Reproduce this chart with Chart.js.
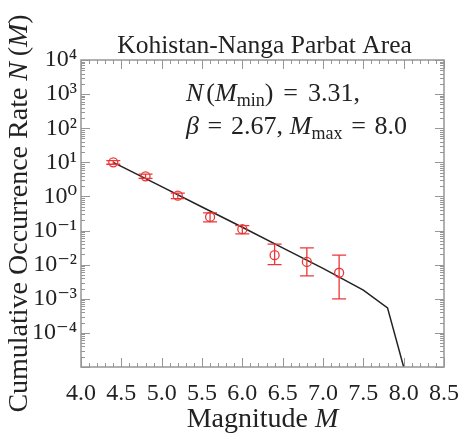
<!DOCTYPE html>
<html>
<head>
<meta charset="utf-8">
<script src="https://cdn.jsdelivr.net/npm/chart.js@4.4.0/dist/chart.umd.min.js"></script>
<style>
  html, body { margin: 0; padding: 0; background: #fff; }
  canvas { display: block; }
</style>
</head>
<body>
<canvas id="grChart" width="471" height="437"></canvas>
<script>
// observed cumulative rates with error bars
const obsM  = [4.4, 4.8, 5.2, 5.6, 6.0, 6.4, 6.8, 7.2];
const obsN  = [10, 3.9, 1.05, 0.25, 0.11, 0.019, 0.012, 0.0058];
const obsLo = [8.8, 3.4, 0.86, 0.18, 0.08, 0.01, 0.0047, 0.001];
const obsHi = [11.2, 4.5, 1.25, 0.33, 0.14, 0.04, 0.031, 0.019];

// fitted truncated G-R curve
const fitM = [4.4, 5.0, 5.5, 6.0, 6.5, 7.0, 7.5, 7.8, 8.0];
const fitN = [10, 1.93, 0.49, 0.125, 0.031, 0.0078, 0.0018, 0.00054, 0.00001];

// axis ticks
const xTicks = [4.0, 4.5, 5.0, 5.5, 6.0, 6.5, 7.0, 7.5, 8.0, 8.5];
const yExps = [-4, -3, -2, -1, 0, 1, 2, 3, 4];

const SERIF = '"Liberation Serif", "DejaVu Serif", serif';
const RED = 'rgb(235, 55, 55)';
const FRAME = 'rgb(150, 150, 150)';
const TXT = '#222';

const supMap = {'-': '\u207B', '0': '\u2070', '1': '\u00B9', '2': '\u00B2', '3': '\u00B3',
  '4': '\u2074', '5': '\u2075', '6': '\u2076', '7': '\u2077', '8': '\u2078', '9': '\u2079'};
function sup(n) {
    return String(n).split('').map(c => supMap[c]).join('');
}

function setFont(ctx, kind, size) {
    if (kind === 'i') ctx.font = 'italic ' + size + 'px ' + SERIF;
    else if (kind === 's') ctx.font = Math.round(size * 0.68) + 'px ' + SERIF;
    else ctx.font = size + 'px ' + SERIF;
}

// draws a run of mixed text; 'g' parts are stretchable gaps (weight in t) so the run spans [x0, x1]
function drawRun(ctx, parts, x0, x1, y, size) {
    let fixed = 0, gaps = 0;
    parts.forEach(([t, k]) => {
        if (k === 'g') { gaps += t; return; }
        setFont(ctx, k, size);
        fixed += ctx.measureText(t).width;
    });
    const gw = gaps ? Math.max(0, (x1 - x0 - fixed) / gaps) : 0;
    let cx = x0;
    parts.forEach(([t, k]) => {
        if (k === 'g') { cx += gw * t; return; }
        setFont(ctx, k, size);
        ctx.fillText(t, cx, y + (k === 's' ? 5 : 0));
        cx += ctx.measureText(t).width;
    });
}

function runWidth(ctx, parts, size) {
    let w = 0;
    parts.forEach(([t, k]) => { setFont(ctx, k, size); w += ctx.measureText(t).width; });
    return w;
}

// frame + inward ticks on all sides
const frameTicks = {
    id: 'frameTicks',
    afterDatasetsDraw(chart) {
        const {ctx, chartArea: a, scales: {x, y}} = chart;
        ctx.save();
        ctx.strokeStyle = FRAME;
        ctx.lineWidth = 1;
        for (let i = 0; i <= 45; i++) {
            const v = 4 + i * 0.1;
            const px = Math.round(x.getPixelForValue(v)) + 0.5;
            const len = (i % 5 === 0) ? 9 : 4;
            ctx.beginPath();
            ctx.moveTo(px, a.bottom); ctx.lineTo(px, a.bottom - len);
            ctx.moveTo(px, a.top); ctx.lineTo(px, a.top + len);
            ctx.stroke();
        }
        for (let e = -5; e <= 4; e++) {
            for (let m = 1; m <= 9; m++) {
                if (e === 4 && m > 1) break;
                const py = Math.round(y.getPixelForValue(m * Math.pow(10, e))) + 0.5;
                const len = (m === 1) ? 9 : 4;
                ctx.beginPath();
                ctx.moveTo(a.left, py); ctx.lineTo(a.left + len, py);
                ctx.moveTo(a.right, py); ctx.lineTo(a.right - len, py);
                ctx.stroke();
            }
        }
        ctx.lineWidth = 1.5;
        ctx.strokeRect(a.left, a.top, a.right - a.left, a.bottom - a.top);
        ctx.restore();
    }
};

// vertical error bars for the observed points
const errorBars = {
    id: 'errorBars',
    afterDatasetsDraw(chart) {
        const {ctx, scales: {x, y}} = chart;
        ctx.save();
        ctx.strokeStyle = RED;
        ctx.lineWidth = 1.3;
        obsM.forEach((m, i) => {
            const px = x.getPixelForValue(m);
            const yl = y.getPixelForValue(obsLo[i]);
            const yh = y.getPixelForValue(obsHi[i]);
            ctx.beginPath();
            ctx.moveTo(px, yl); ctx.lineTo(px, yh);
            ctx.moveTo(px - 7, yl); ctx.lineTo(px + 7, yl);
            ctx.moveTo(px - 7, yh); ctx.lineTo(px + 7, yh);
            ctx.stroke();
        });
        ctx.restore();
    }
};

// title, axis titles and parameter annotation
const texts = {
    id: 'texts',
    afterDraw(chart) {
        const {ctx, chartArea: a} = chart;
        const cx = (a.left + a.right) / 2;
        const cy = (a.top + a.bottom) / 2;
        ctx.save();
        ctx.fillStyle = TXT;
        ctx.textBaseline = 'alphabetic';
        ctx.textAlign = 'center';
        ctx.font = '25.5px ' + SERIF;
        ctx.fillText('Kohistan-Nanga Parbat Area', cx + 2, 53);

        ctx.textAlign = 'left';
        const xt = [['Magnitude ', 'r'], ['M', 'i']];
        const xw = runWidth(ctx, xt, 28);
        drawRun(ctx, xt, cx - xw / 2, cx + xw / 2, 427, 28);

        const yt = [['Cumulative Occurrence Rate ', 'r'], ['N', 'i'], ['\u2009(', 'r'], ['M', 'i'], [')', 'r']];
        const yw = runWidth(ctx, yt, 28);
        ctx.save();
        ctx.translate(27, cy);
        ctx.rotate(-Math.PI / 2);
        drawRun(ctx, yt, -yw / 2, yw / 2, 0, 28);
        ctx.restore();

        drawRun(ctx, [['N', 'i'], [0.3, 'g'], ['(', 'r'], ['M', 'i'], ['min', 's'], [')', 'r'],
            [1, 'g'], ['=', 'r'], [1, 'g'], ['3.31,', 'r']], 186, 360, 101, 26);
        drawRun(ctx, [['\u03B2', 'i'], [1, 'g'], ['=', 'r'], [1, 'g'], ['2.67,', 'r'], [0.8, 'g'],
            ['M', 'i'], ['max', 's'], [1, 'g'], ['=', 'r'], [1, 'g'], ['8.0', 'r']], 186, 407, 134, 26);
        ctx.restore();
    }
};

const config_gr = {
    data: {
        datasets: [
            {
                type: 'line',
                label: 'fit',
                data: fitM.map((m, i) => ({x: m, y: fitN[i]})),
                borderColor: '#222',
                borderWidth: 1.5,
                pointRadius: 0,
                tension: 0,
                order: 2
            },
            {
                type: 'scatter',
                label: 'observed',
                data: obsM.map((m, i) => ({x: m, y: obsN[i]})),
                borderColor: RED,
                backgroundColor: 'rgba(0,0,0,0)',
                borderWidth: 1.3,
                pointRadius: 4.5,
                pointStyle: 'circle',
                order: 1
            }
        ]
    },
    options: {
        responsive: false,
        animation: false,
        layout: { padding: { left: 0, right: 18, top: 60, bottom: 0 } },
        plugins: {
            legend: { display: false },
            tooltip: { enabled: false },
            title: { display: false }
        },
        scales: {
            x: {
                type: 'linear',
                min: 4.0,
                max: 8.5,
                grid: { display: false, drawTicks: false },
                border: { display: false },
                afterBuildTicks: s => { s.ticks = xTicks.map(v => ({value: v})); },
                afterFit: s => { s.height = 70; },
                ticks: {
                    color: TXT,
                    padding: 12,
                    maxRotation: 0,
                    font: { family: SERIF, size: 24 },
                    callback: v => Number(v).toFixed(1)
                }
            },
            y: {
                type: 'logarithmic',
                min: 1e-5,
                max: 1e4,
                grid: { display: false, drawTicks: false },
                border: { display: false },
                afterBuildTicks: s => { s.ticks = yExps.map(e => ({value: Math.pow(10, e)})); },
                afterFit: s => { s.width = 81; },
                ticks: {
                    color: TXT,
                    padding: 4,
                    font: { family: SERIF, size: 24 },
                    callback: v => '10' + sup(Math.round(Math.log10(v)))
                }
            }
        }
    },
    plugins: [frameTicks, errorBars, texts]
};

const grChart = new Chart(document.getElementById('grChart'), config_gr);
</script>
</body>
</html>
